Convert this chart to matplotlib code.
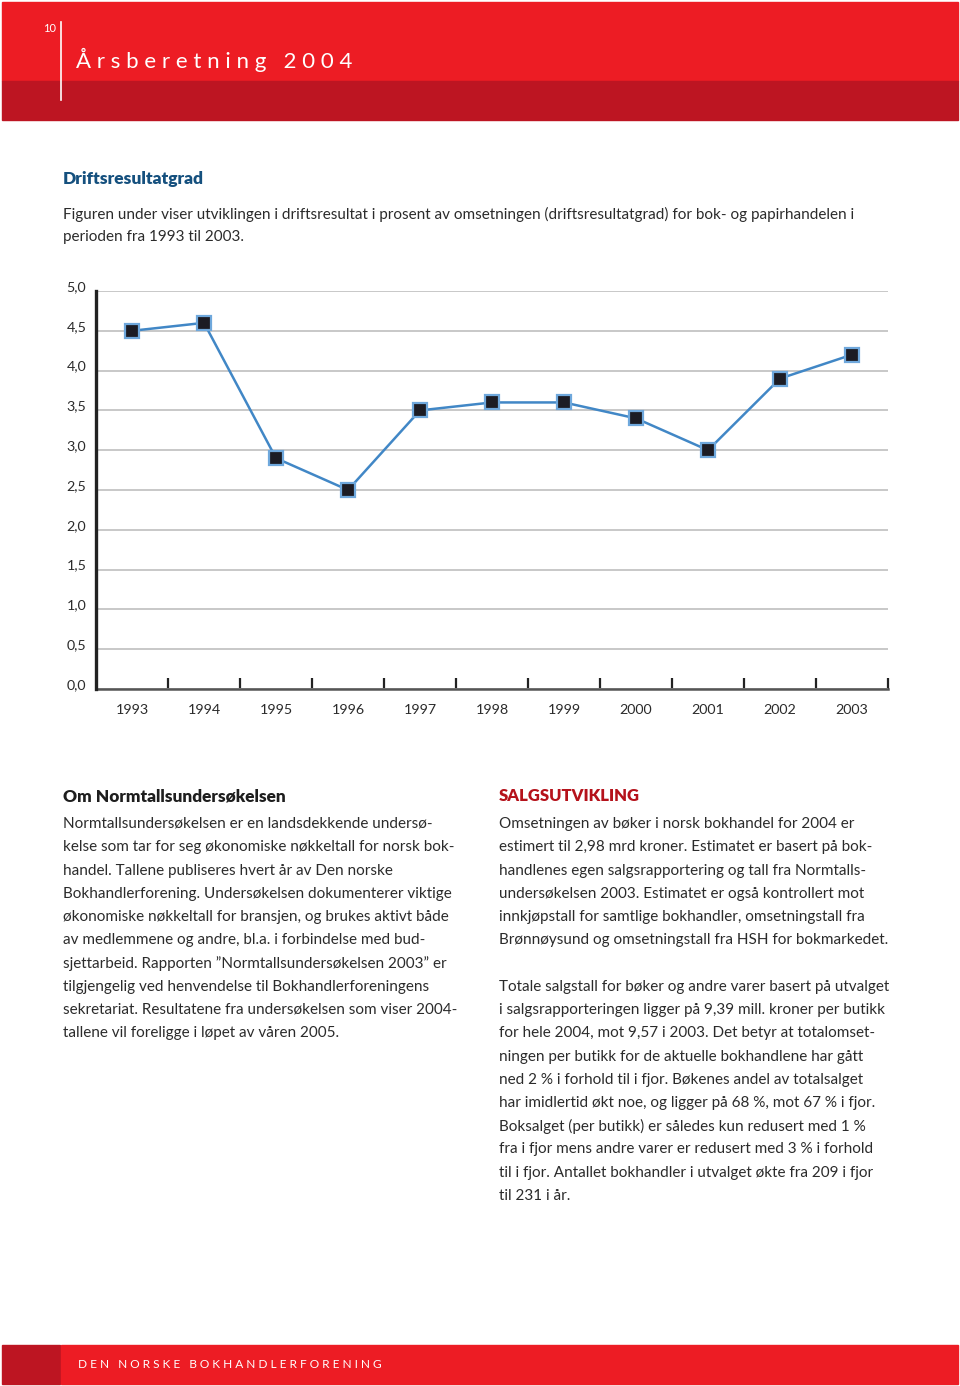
import matplotlib as mpl
mpl.use('Agg')
import matplotlib.pyplot as plt
from matplotlib.patches import Rectangle
from matplotlib.lines import Line2D

W, H = 960, 1386

years = ['1993', '1994', '1995', '1996', '1997', '1998', '1999', '2000', '2001', '2002', '2003']
values = [4.5, 4.6, 2.9, 2.5, 3.5, 3.6, 3.6, 3.4, 3.0, 3.9, 4.2]
yticks = [0.0, 0.5, 1.0, 1.5, 2.0, 2.5, 3.0, 3.5, 4.0, 4.5, 5.0]

intro = ["Figuren under viser utviklingen i driftsresultat i prosent av omsetningen (driftsresultatgrad) for bok- og papirhandelen i",
         "perioden fra 1993 til 2003."]

left_col = ["Normtallsundersøkelsen er en landsdekkende undersø-",
            "kelse som tar for seg økonomiske nøkkeltall for norsk bok-",
            "handel. Tallene publiseres hvert år av Den norske",
            "Bokhandlerforening. Undersøkelsen dokumenterer viktige",
            "økonomiske nøkkeltall for bransjen, og brukes aktivt både",
            "av medlemmene og andre, bl.a. i forbindelse med bud-",
            "sjettarbeid. Rapporten \u201dNormtallsundersøkelsen 2003\u201d er",
            "tilgjengelig ved henvendelse til Bokhandlerforeningens",
            "sekretariat. Resultatene fra undersøkelsen som viser 2004-",
            "tallene vil foreligge i løpet av våren 2005."]

right_col = ["Omsetningen av bøker i norsk bokhandel for 2004 er",
             "estimert til 2,98 mrd kroner. Estimatet er basert på bok-",
             "handlenes egen salgsrapportering og tall fra Normtalls-",
             "undersøkelsen 2003. Estimatet er også kontrollert mot",
             "innkjøpstall for samtlige bokhandler, omsetningstall fra",
             "Brønnøysund og omsetningstall fra HSH for bokmarkedet.",
             "",
             "Totale salgstall for bøker og andre varer basert på utvalget",
             "i salgsrapporteringen ligger på 9,39 mill. kroner per butikk",
             "for hele 2004, mot 9,57 i 2003. Det betyr at totalomset-",
             "ningen per butikk for de aktuelle bokhandlene har gått",
             "ned 2 % i forhold til i fjor. Bøkenes andel av totalsalget",
             "har imidlertid økt noe, og ligger på 68 %, mot 67 % i fjor.",
             "Boksalget (per butikk) er således kun redusert med 1 %",
             "fra i fjor mens andre varer er redusert med 3 % i forhold",
             "til i fjor. Antallet bokhandler i utvalget økte fra 209 i fjor",
             "til 231 i år."]

RED = '#ED1C24'
DARKRED = '#BD1522'
TEXT = '#2b2b2b'
BODY = 11.0
plt.rcParams['font.family'] = ['Lato', 'DejaVu Sans']


def fx(x):
    return x / W


def fy(y):
    return 1 - y / H


def rect(fig, x0, y0, x1, y1, color):
    fig.patches.append(Rectangle((fx(x0), fy(y1)), fx(x1) - fx(x0), fy(y0) - fy(y1),
                                 transform=fig.transFigure, color=color, zorder=0))


fig = plt.figure(figsize=(W / 100, H / 100), dpi=100)

# header band
rect(fig, 2, 2, 958, 81, RED)
rect(fig, 2, 81, 958, 120, DARKRED)
fig.lines.append(Line2D([fx(61), fx(61)], [fy(22), fy(100)], transform=fig.transFigure,
                        color='white', lw=1.2))
fig.text(fx(56), fy(28), '10', color='white', fontsize=8, ha='right', va='center')
fig.text(fx(76), fy(60), ' '.join('Årsberetning') + '   ' + ' '.join('2004'),
         color='white', fontsize=16, va='center')

# footer band
rect(fig, 2, 1345, 60, 1384, DARKRED)
rect(fig, 61, 1345, 958, 1384, RED)
fig.text(fx(78), fy(1364), ' '.join('DEN') + '   ' + ' '.join('NORSKE') + '   ' + ' '.join('BOKHANDLERFORENING'),
         color='white', fontsize=8.6, va='center')

# intro text
fig.text(fx(63), fy(179), 'Driftsresultatgrad', color='#15507e', fontsize=12.5,
         fontweight='heavy', va='center')
for i, line in enumerate(intro):
    fig.text(fx(63), fy(214 + i * 23.3), line, color=TEXT, fontsize=BODY, va='center')

# chart
ax = fig.add_axes([fx(96), fy(689), fx(888) - fx(96), fy(291) - fy(689)])
x = list(range(len(years)))
ax.plot(x, values, color='#4187c6', lw=1.8, marker='s', markersize=10,
        markerfacecolor='#1c1c24', markeredgecolor='#6fa8dc', markeredgewidth=1.6,
        zorder=5, clip_on=False)
ax.set_xlim(-0.5, len(years) - 0.5)
ax.set_ylim(0, 5)
ax.set_yticks(yticks)
ax.set_yticklabels([f'{v:.1f}'.replace('.', ',') for v in yticks], color=TEXT, fontsize=10.3)
for lab in ax.get_yticklabels():
    lab.set_verticalalignment('baseline')
ax.tick_params(axis='y', length=0, pad=7)
ax.yaxis.grid(True, color='#c4c4c4', lw=1.3)
ax.set_axisbelow(True)

ax.set_xticks([i + 0.5 for i in range(len(years))])
ax.set_xticklabels([])
ax.tick_params(axis='x', which='major', direction='in', length=8, width=1.6, color='#222222')
ax.set_xticks(x, minor=True)
ax.set_xticklabels(years, minor=True, color=TEXT, fontsize=10.3)
ax.tick_params(axis='x', which='minor', length=0, pad=11)

for s in ['top', 'right']:
    ax.spines[s].set_visible(False)
ax.spines['left'].set_linewidth(2.4)
ax.spines['left'].set_color('#222222')
ax.spines['bottom'].set_linewidth(1.8)
ax.spines['bottom'].set_color('#555555')
ax.spines['left'].set_zorder(6)

# text columns
fig.text(fx(63), fy(796), 'Om Normtallsundersøkelsen', color='#1e1e1e', fontsize=12.4,
         fontweight='heavy', va='center')
for i, line in enumerate(left_col):
    fig.text(fx(63), fy(824 + i * 23.25), line, color=TEXT, fontsize=BODY, va='center')

fig.text(fx(499), fy(796), 'SALGSUTVIKLING', color='#b5121b', fontsize=12,
         fontweight='heavy', va='center')
for i, line in enumerate(right_col):
    fig.text(fx(499), fy(824 + i * 23.25), line, color=TEXT, fontsize=BODY, va='center')

fig.savefig('out.png', dpi=100)
